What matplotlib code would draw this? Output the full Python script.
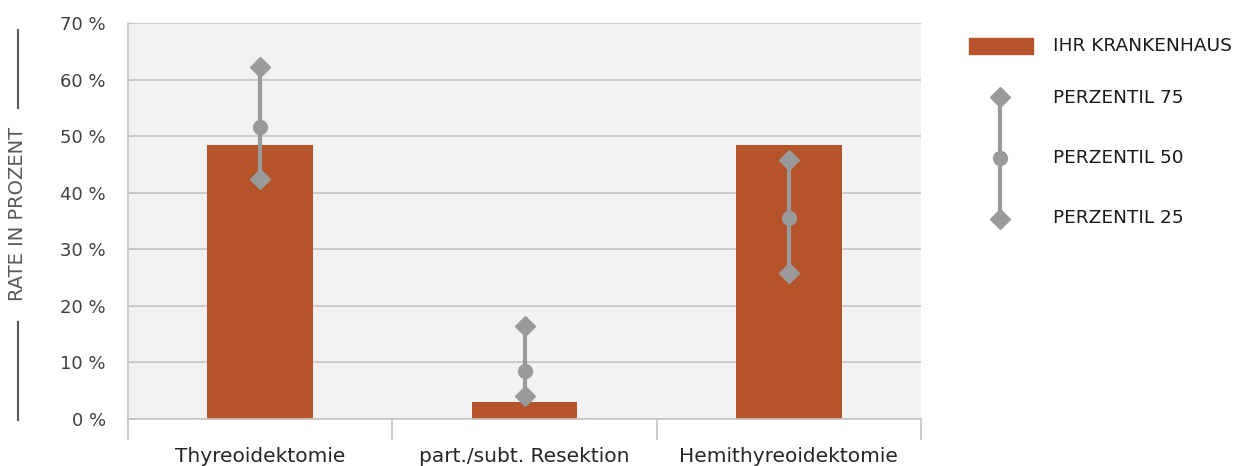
import matplotlib
matplotlib.use("Agg")
import matplotlib.pyplot as plt
import numpy as np

# data
categories = ["Thyreoidektomie", "part./subt. Resektion", "Hemithyreoidektomie"]
hospital = [48.4, 3.0, 48.4]
p75 = [62.2, 16.4, 45.8]
p50 = [51.6, 8.5, 35.5]
p25 = [42.4, 4.1, 25.8]
yticks = [0, 10, 20, 30, 40, 50, 60, 70]
legend_labels = ["IHR KRANKENHAUS", "PERZENTIL 75", "PERZENTIL 50", "PERZENTIL 25"]

BAR = "#b5532a"
GREY = "#9a9a9a"
W, H = 1239, 466

fig = plt.figure(figsize=(W / 100, H / 100), dpi=100)
ax = fig.add_axes([128 / W, 1 - 419 / H, (921 - 128) / W, (419 - 23) / H])
ax.set_facecolor("#f2f2f2")

x = np.arange(len(categories))
ax.bar(x, hospital, width=0.4, color=BAR, zorder=2)
for i in range(len(categories)):
    ax.plot([x[i], x[i]], [p25[i], p75[i]], color=GREY, lw=3, zorder=3,
            solid_capstyle="butt")
ax.plot(x, p75, "D", color=GREY, ms=10, zorder=4)
ax.plot(x, p25, "D", color=GREY, ms=10, zorder=4)
ax.plot(x, p50, "o", color=GREY, ms=10, zorder=4)

ax.set_xlim(-0.5, len(categories) - 0.5)
ax.set_ylim(0, 70)
ax.set_yticks(yticks)
ax.set_yticklabels([f"{v} %" for v in yticks], fontsize=13, color="#404040")
ax.grid(axis="y", color="#c4c4c4", lw=1.2, zorder=1)
ax.tick_params(axis="y", length=4, direction="in", color="#c4c4c4", pad=16)

ax.set_xticks(np.arange(len(categories) + 1) - 0.5)
ax.set_xticklabels([])
ax.tick_params(axis="x", which="major", length=15, color="#c4c4c4", width=1.2)
ax.set_xticks(x, minor=True)
ax.set_xticklabels(categories, minor=True, fontsize=14.5, color="#262626")
ax.tick_params(axis="x", which="minor", length=0, pad=20)

for s in ["top", "right"]:
    ax.spines[s].set_visible(False)
ax.spines["left"].set_color("#c4c4c4")
ax.spines["bottom"].set_color("#c4c4c4")
ax.spines["left"].set_linewidth(1.2)
ax.spines["bottom"].set_linewidth(1.2)

# overlay in pixel coordinates for the y-label decoration and legend
ov = fig.add_axes([0, 0, 1, 1], zorder=5)
ov.set_xlim(0, W)
ov.set_ylim(H, 0)
ov.axis("off")

ov.plot([18, 18], [30, 108], color="#595959", lw=1.5)
ov.plot([18, 18], [322, 420], color="#595959", lw=1.5)
ov.text(18, 214, "RATE IN PROZENT", rotation=90, ha="center", va="center",
        fontsize=14, color="#595959")

ov.add_patch(plt.Rectangle((969, 38), 64, 16, color=BAR))
ov.plot([1000, 1000], [97, 219], color=GREY, lw=3)
ov.plot([1000, 1000], [97, 219], "D", color=GREY, ms=10)
ov.plot([1000], [158], "o", color=GREY, ms=10)
for lab, yy in zip(legend_labels, [46, 98, 158, 218]):
    ov.text(1053, yy, lab, fontsize=13.3, color="#1a1a1a", va="center", ha="left")

fig.savefig("out.png", dpi=100)
